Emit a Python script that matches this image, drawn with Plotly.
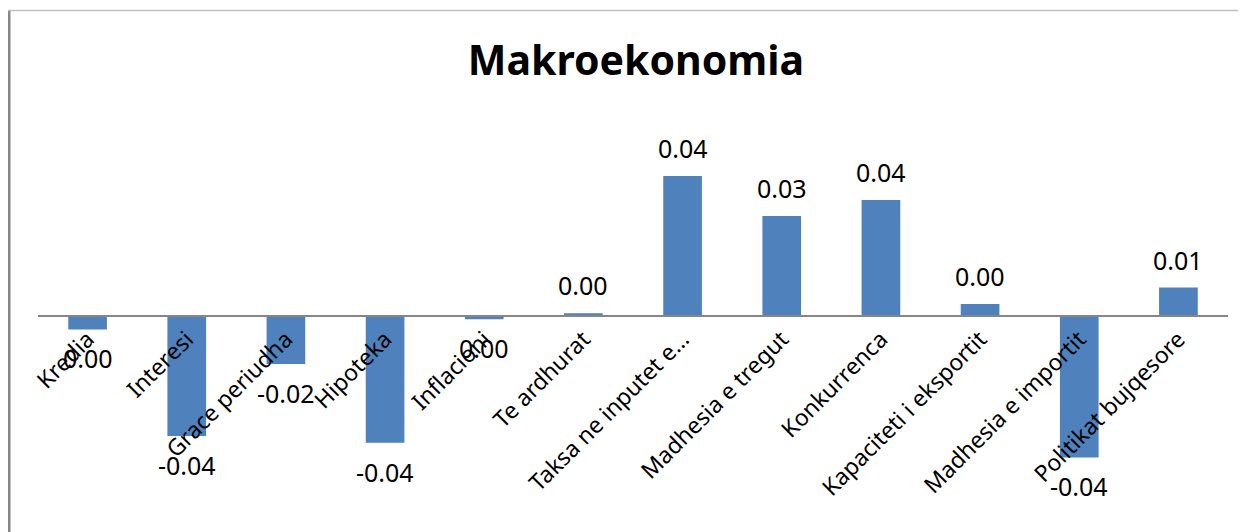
import plotly.graph_objects as go

categories = ["Kredia", "Interesi", "Grace periudha", "Hipoteka", "Inflacioni",
              "Te ardhurat", "Taksa ne inputet e…", "Madhesia e tregut",
              "Konkurrenca", "Kapaciteti i eksportit", "Madhesia e importit",
              "Politikat bujqesore"]
values = [-0.0043, -0.0376, -0.0151, -0.0397, -0.0011, 0.0008, 0.0437,
          0.0312, 0.0362, 0.0037, -0.0443, 0.0088]
title_text = "Makroekonomia"

labels = [f"{v:.2f}".replace("-0.00", "0.00") for v in values]

W, H = 1246, 532
L, R, T, B = 30, 26, 142, 40
ymin, ymax = -0.0576, 0.0518
pw = W - L - R
ph = H - T - B

fig = go.Figure(go.Bar(
    x=categories, y=values, width=0.39, cliponaxis=False,
    marker=dict(color="#4F81BD", line=dict(width=0)),
))

annotations = []
for c, v, t in zip(categories, values, labels):
    pos = v >= 0
    annotations.append(dict(
        x=c, y=v, xref="x", yref="y", text=t, showarrow=False,
        yanchor="bottom" if pos else "top",
        yshift=9 if pos else -10,
        font=dict(family="Noto Sans", size=25, color="#000000"),
    ))

zero_pos = (0 - ymin) / (ymax - ymin)

def px_x(p):
    return (p - L) / pw

def px_y(p):
    return (H - B - p) / ph

fig.update_layout(
    width=W, height=H,
    margin=dict(l=L, r=R, t=T, b=B),
    paper_bgcolor="white", plot_bgcolor="white",
    showlegend=False,
    title=dict(text="<b>" + title_text + "</b>", x=0.504, xanchor="center",
               y=1 - 53 / H, yanchor="middle",
               font=dict(family="Noto Sans", size=41, color="#000000")),
    xaxis=dict(anchor="free", position=zero_pos, tickangle=-45,
               showline=True, linecolor="#868686", linewidth=2,
               ticks="", showgrid=False,
               tickfont=dict(family="Noto Sans", size=23, color="#000000")),
    yaxis=dict(range=[ymin, ymax], visible=False, showgrid=False,
               zeroline=False),
    annotations=annotations,
    shapes=[
        dict(type="line", xref="paper", yref="paper",
             x0=px_x(1), x1=px_x(1), y0=px_y(2.5), y1=px_y(560),
             line=dict(color="#868686", width=3), layer="below"),
        dict(type="line", xref="paper", yref="paper",
             x0=px_x(0), x1=px_x(1300), y0=px_y(2.5), y1=px_y(2.5),
             line=dict(color="#c0c0c0", width=1.5), layer="below"),
    ],
)

fig.write_html("out.html")
